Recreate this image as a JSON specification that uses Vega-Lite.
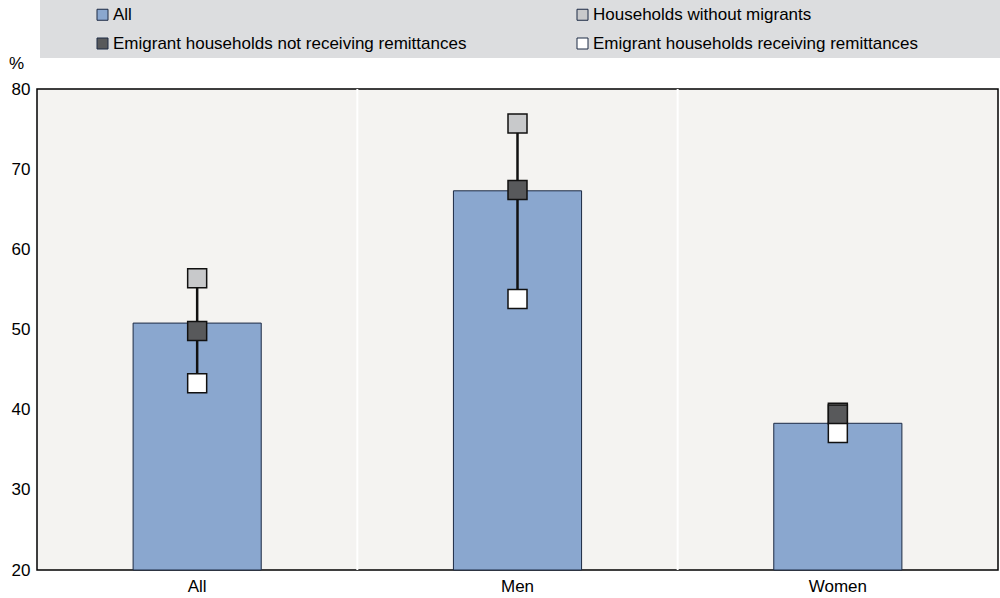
{
  "$schema": "https://vega.github.io/schema/vega-lite/v6.json",
  "width": 961,
  "height": 481,
  "autosize": {"type": "none"},
  "padding": {"left": 37, "top": 89, "right": 2, "bottom": 28},
  "background": "white",
  "config": {
    "font": "Liberation Sans, Arial, sans-serif",
    "view": {"stroke": "black", "strokeWidth": 1.5, "fill": "#f4f3f1"}
  },
  "data": {
    "values": [
      {"cat": "All", "All": 50.8, "Households without migrants": 56.4, "Emigrant households not receiving remittances": 49.8, "Emigrant households receiving remittances": 43.3},
      {"cat": "Men", "All": 67.3, "Households without migrants": 75.7, "Emigrant households not receiving remittances": 67.4, "Emigrant households receiving remittances": 53.8},
      {"cat": "Women", "All": 38.3, "Households without migrants": 39.6, "Emigrant households not receiving remittances": 39.4, "Emigrant households receiving remittances": 37.1}
    ]
  },
  "encoding": {
    "x": {
      "field": "cat", "type": "nominal", "sort": ["All", "Men", "Women"],
      "scale": {"domain": ["All", "Men", "Women"], "paddingInner": 0, "paddingOuter": 0},
      "axis": {"title": null, "labelAngle": 0, "ticks": false, "domain": false, "grid": false, "labelFontSize": 17, "labelColor": "#000", "labelPadding": 8}
    }
  },
  "layer": [
    {
      "transform": [{"filter": "datum.cat !== 'All'"}],
      "mark": {"type": "rule", "color": "white", "strokeWidth": 2},
      "encoding": {"x": {"field": "cat", "type": "nominal", "sort": ["All", "Men", "Women"], "bandPosition": 0}}
    },
    {
      "mark": {"type": "bar", "width": {"band": 0.4}, "stroke": "#1c2a44", "strokeWidth": 1},
      "encoding": {
        "y": {
          "field": "All", "type": "quantitative",
          "scale": {"domain": [20, 80], "zero": false, "nice": false},
          "axis": {"values": [20, 30, 40, 50, 60, 70, 80], "title": "%", "titleAngle": 0, "titleX": -21, "titleY": -17, "titleFontSize": 17, "titleFontWeight": "normal", "titleColor": "#000", "ticks": false, "domain": false, "grid": false, "labelFontSize": 17, "labelColor": "#000", "labelPadding": 7}
        },
        "y2": {"datum": 20},
        "color": {"datum": "All"}
      }
    },
    {
      "transform": [
        {"fold": ["Households without migrants", "Emigrant households not receiving remittances", "Emigrant households receiving remittances"], "as": ["series", "val"]},
        {"aggregate": [{"op": "min", "field": "val", "as": "lo"}, {"op": "max", "field": "val", "as": "hi"}], "groupby": ["cat"]}
      ],
      "mark": {"type": "rule", "color": "#111", "strokeWidth": 2.5},
      "encoding": {
        "y": {"field": "lo", "type": "quantitative"},
        "y2": {"field": "hi"}
      }
    },
    {
      "transform": [
        {"fold": ["Households without migrants", "Emigrant households not receiving remittances", "Emigrant households receiving remittances"], "as": ["series", "val"]}
      ],
      "mark": {"type": "point", "shape": "square", "filled": true, "size": 361, "stroke": "#111", "strokeWidth": 1.5, "opacity": 1},
      "encoding": {
        "y": {"field": "val", "type": "quantitative"},
        "color": {
          "field": "series", "type": "nominal",
          "scale": {
            "domain": ["All", "Emigrant households not receiving remittances", "Households without migrants", "Emigrant households receiving remittances"],
            "range": ["#8aa7cf", "#58595b", "#c8c9cb", "#ffffff"]
          },
          "legend": {
            "title": " ", "titleOrient": "right", "titlePadding": 77, "titleFontSize": 17,
            "orient": "none", "legendX": 3, "legendY": -89,
            "columns": 2, "gridAlign": "all", "columnPadding": 59, "rowPadding": 11,
            "fillColor": "#dcdddf", "padding": 6,
            "symbolType": "square", "symbolSize": 121, "symbolStrokeColor": "#111", "symbolStrokeWidth": 1, "symbolOffset": 48,
            "labelFontSize": 17, "labelColor": "#000", "labelOffset": 2, "labelLimit": 500
          }
        }
      }
    }
  ]
}
